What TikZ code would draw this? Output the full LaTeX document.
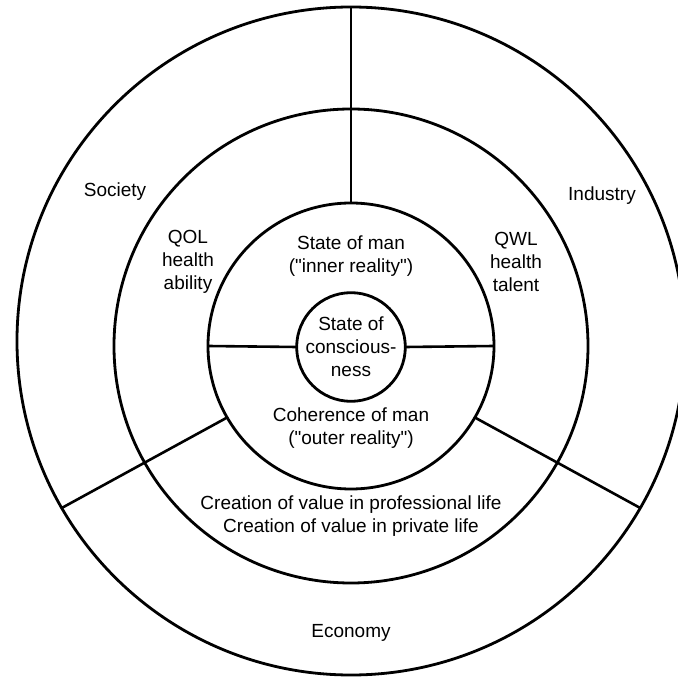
\documentclass[tikz,border=0pt]{standalone}
\usepackage{fontspec}
\newfontfamily\arial{Liberation Sans}
\usetikzlibrary{positioning}

\begin{document}
\begin{tikzpicture}[x=0.5pt, y=0.5pt,
        ring/.style={circle, draw, line width=1.4pt, inner sep=0pt, outer sep=0pt, minimum size=#1},
        spoke/.style={draw, line width=1.3pt},
        txt/.style={align=center, font=\arial\fontsize{9.5}{11.4}\selectfont, inner sep=0pt}
      ]
      \useasboundingbox (-351,-336) rectangle (327,344);

      % the four rings
      \node [ring=334pt] (outer) at (0,3) {};
      \node [ring=237pt] (middle) at (0,-2) {};
      \node [ring=143pt] (inner) at (0,-2) {};
      \node [ring=46pt, txt] (core) at (0,-3) {State of\\conscious-\\ness};

      % dividers
      \path (outer.north) edge[spoke] (inner.north);
      \path (inner.west)  edge[spoke] (core.west);
      \path (core.east)   edge[spoke] (inner.east);
      \path (inner.210)   edge[spoke] (outer.210);
      \path (inner.-30)   edge[spoke] (outer.-30);

      \node [txt] (society) at (-236,152) {Society};
      \node [txt] (industry) at (251,148) {Industry};
      \node [txt] (qol) at (-163,82) {QOL\\health\\ability};
      \node [txt] (qwl) at (165,82) {QWL\\health\\talent};
      \node [txt] (man) at (0,88) {State of man\\("inner reality")};
      \node [txt] (coherence) at (0,-84) {Coherence of man\\("outer reality")};
      \node [txt] (value) at (0,-172) {Creation of value in professional life\\Creation of value in private life};
      \node [txt] (economy) at (0,-289) {Economy};
    \end{tikzpicture}
\end{document}
